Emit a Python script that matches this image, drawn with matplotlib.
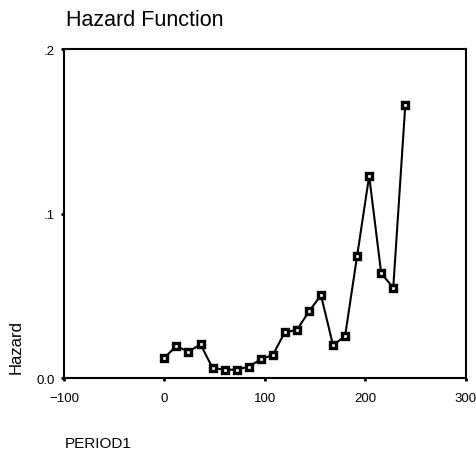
import matplotlib
matplotlib.use("Agg")
import matplotlib.pyplot as plt

period = [0, 12, 24, 36, 48, 60, 72, 84, 96, 108, 120, 132, 144, 156, 168, 180, 192, 204, 216, 228, 240]
hazard = [0.0126, 0.0196, 0.0162, 0.0207, 0.0063, 0.0053, 0.0053, 0.0071, 0.0116, 0.0142,
          0.0281, 0.0294, 0.0407, 0.0505, 0.0201, 0.0257, 0.0744, 0.1230, 0.0638, 0.0551, 0.1662]
xticks = [-100, 0, 100, 200, 300]
xticklabels = ["\u2212100", "0", "100", "200", "300"]
yticks = [0.0, 0.1, 0.2]
yticklabels = ["0.0", ".1", ".2"]

plt.rcParams['font.family'] = ['Liberation Sans', 'DejaVu Sans']

fig = plt.figure(figsize=(4.76, 4.56), dpi=100)
ax = fig.add_axes([0.1345, 0.168, 0.978 - 0.1345, 0.890 - 0.168])
ax.plot(period, hazard, color='black', lw=1.5, marker='s', markersize=4.8,
        markerfacecolor='white', markeredgecolor='black', markeredgewidth=2.4)
ax.set_xlim(-100, 300)
ax.set_ylim(0, 0.2)
ax.set_xticks(xticks)
ax.set_xticklabels(xticklabels)
ax.set_yticks(yticks)
ax.set_yticklabels(yticklabels)
ax.tick_params(direction='out', length=2.5, width=2, labelsize=9.5)
ax.tick_params(axis='x', pad=7)
ax.tick_params(axis='y', pad=4)
for s in ax.spines.values():
    s.set_linewidth(1.5)

fig.text(0.139, 0.956, "Hazard Function", fontsize=15.5, ha='left', va='center')
fig.text(0.034, 0.239, "Hazard", fontsize=12, rotation=90, ha='center', va='center')
fig.text(0.1366, 0.027, "PERIOD1", fontsize=11, ha='left', va='center')

fig.savefig("out.png", dpi=100)
